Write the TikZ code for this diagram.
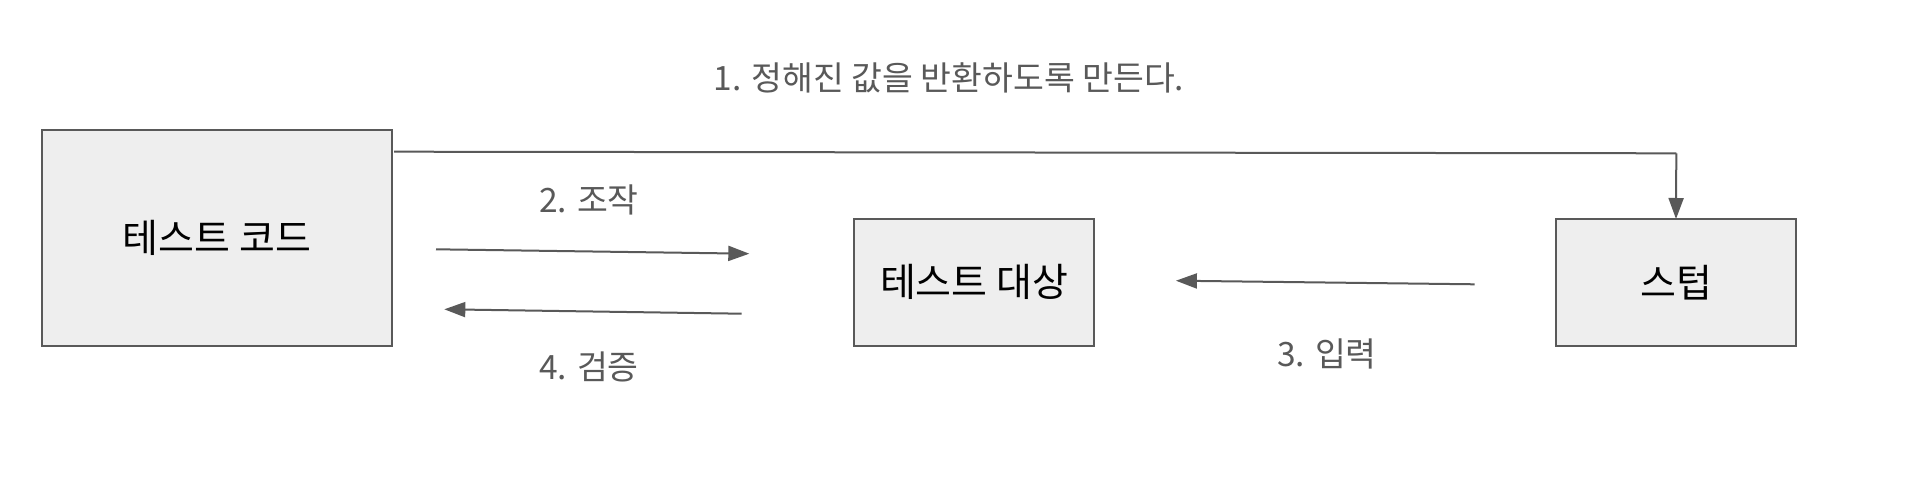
\documentclass[tikz,border=0pt]{standalone}
\usepackage{fontspec}
\setmainfont{Noto Sans CJK KR}
\usetikzlibrary{arrows.meta}
\definecolor{linegray}{HTML}{595959}
\definecolor{boxfill}{HTML}{EEEEEE}
\tikzset{
  box/.style={draw=linegray, fill=boxfill, line width=2pt, inner sep=0pt, outer sep=0pt,
    font=\fontsize{39}{43}\selectfont, text=black},
  lbl/.style={text=linegray, inner sep=0pt, font=\fontsize{33.5}{37}\selectfont},
  conn/.style={draw=linegray, line width=2pt, -{Triangle[length=21pt,width=15pt]}},
  plain/.style={draw=linegray, line width=2pt}
}
\begin{document}
\begin{tikzpicture}[x=1pt,y=-1pt]
\useasboundingbox (0,0) rectangle (1918,500);
\fill[white] (0,0) rectangle (1918,500);
\node[box, minimum width=350.3pt, minimum height=216pt] (code) at (216.85,238) {테스트 코드};
\node[box, minimum width=239.7pt, minimum height=126.7pt] (sut) at (974.15,282.35) {테스트 대상};
\node[box, minimum width=240pt, minimum height=126.7pt] (stub) at (1676,282.35) {스텁};

\coordinate (c1s) at ([shift={(2pt,-21.7pt)}]code.north east);
\coordinate (corner) at (1676.3,153.3);
\draw[plain] (c1s) -- (corner);
\draw[conn] (corner) -- (stub.north);

\coordinate (a2s) at (436,249.3);
\coordinate (a2e) at (749.3,253.7);
\draw[conn] (a2s) -- (a2e);

\coordinate (a4s) at (741.7,313.7);
\coordinate (a4e) at (444.3,309.3);
\draw[conn] (a4s) -- (a4e);

\coordinate (a3s) at (1474.6,284.3);
\coordinate (a3e) at (1175.9,280.7);
\draw[conn] (a3s) -- (a3e);

\node[lbl] (l1) at (949,78) {1. 정해진 값을 반환하도록 만든다.};
\node[lbl] (l2) at (589,200) {2. 조작};
\node[lbl] (l4) at (589,367) {4. 검증};
\node[lbl] (l3) at (1327,353.5) {3. 입력};
\end{tikzpicture}
\end{document}
